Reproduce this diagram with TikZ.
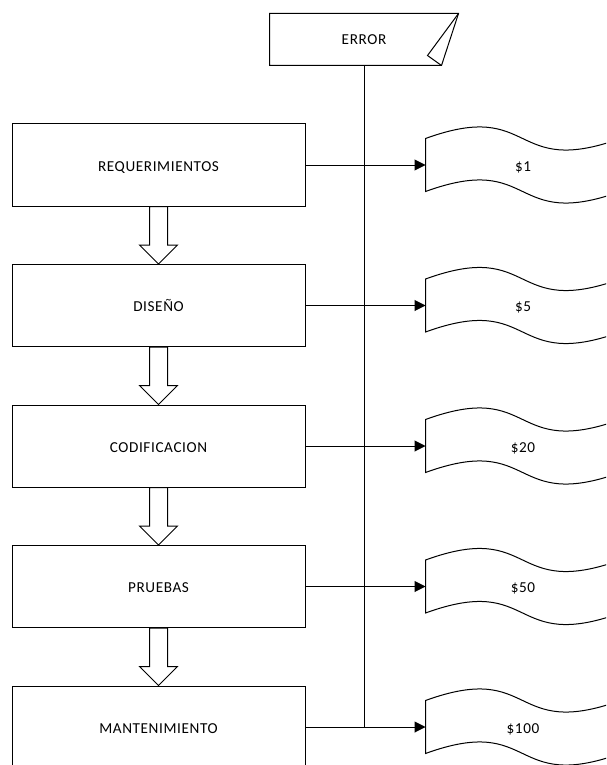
\documentclass[tikz,border=0pt]{standalone}
\usepackage{fontspec}
\setmainfont[LetterSpace=4]{Carlito}
\usetikzlibrary{calc,arrows.meta}
\begin{document}
\begin{tikzpicture}[x=1pt,y=-1pt,line width=1pt,
  txt/.style={font=\fontsize{15.2}{18}\selectfont},
  lowtxt/.style={txt, text height=12.6pt, text depth=0pt},
  stagebox/.style={lowtxt, draw, minimum width=293pt, minimum height=82pt, inner sep=0pt},
  tapebox/.style={lowtxt, minimum width=194pt, minimum height=52pt, inner sep=0pt},
  errbox/.style={txt, minimum width=188pt, minimum height=51pt, inner sep=0pt},
  conn/.style={-{Triangle[length=11pt,width=11pt]}},
  hollow/.style={draw, fill=white, line join=miter}]
\useasboundingbox (0,0) rectangle (606,765);
\clip (0,0) rectangle (606,765);

\node[errbox] (err) at (364,39.5) {ERROR};
\draw (err.north west) -- (err.north east) -- ($(err.south east)+(-17,0)$) -- (err.south west) -- cycle;
\draw (err.north east) -- ($(err.south east)+(-31,-10)$) -- ($(err.south east)+(-17,0)$);

\node[stagebox] (b1) at (158.5,165) {REQUERIMIENTOS};
\node[stagebox] (b2) at (158.5,305.5) {DISEÑO};
\node[stagebox] (b3) at (158.5,446) {CODIFICACION};
\node[stagebox] (b4) at (158.5,586.5) {PRUEBAS};
\node[stagebox] (b5) at (158.5,727) {MANTENIMIENTO};

\node[tapebox] (t1) at (523,165) {\$1};
\node[tapebox] (t2) at (523,305.5) {\$5};
\node[tapebox] (t3) at (523,446) {\$20};
\node[tapebox] (t4) at (523,586.5) {\$50};
\node[tapebox] (t5) at (523,727) {\$100};

\foreach \t in {t1,t2,t3,t4,t5}
  \draw (\t.north west) .. controls ($(\t.north west)+(110,-40)$) and ($(\t.north west)+(84,40)$) .. (\t.north east)
        -- (\t.south east) .. controls ($(\t.south west)+(84,40)$) and ($(\t.south west)+(110,-40)$) .. (\t.south west) -- cycle;

\foreach \a/\b in {b1/b2,b2/b3,b3/b4,b4/b5}
  \draw[hollow] ($(\a.south)+(-9,0)$) -- ($(\a.south)+(9,0)$) -- ($(\b.north)+(9,-19)$) -- ($(\b.north)+(19,-19)$)
        -- (\b.north) -- ($(\b.north)+(-19,-19)$) -- ($(\b.north)+(-9,-19)$) -- cycle;

\draw (err.south) -- (err.south |- b5.east);
\foreach \a/\b in {b1/t1,b2/t2,b3/t3,b4/t4,b5/t5}
  \draw[conn] (\a.east) -- (\b.west);
\end{tikzpicture}
\end{document}
